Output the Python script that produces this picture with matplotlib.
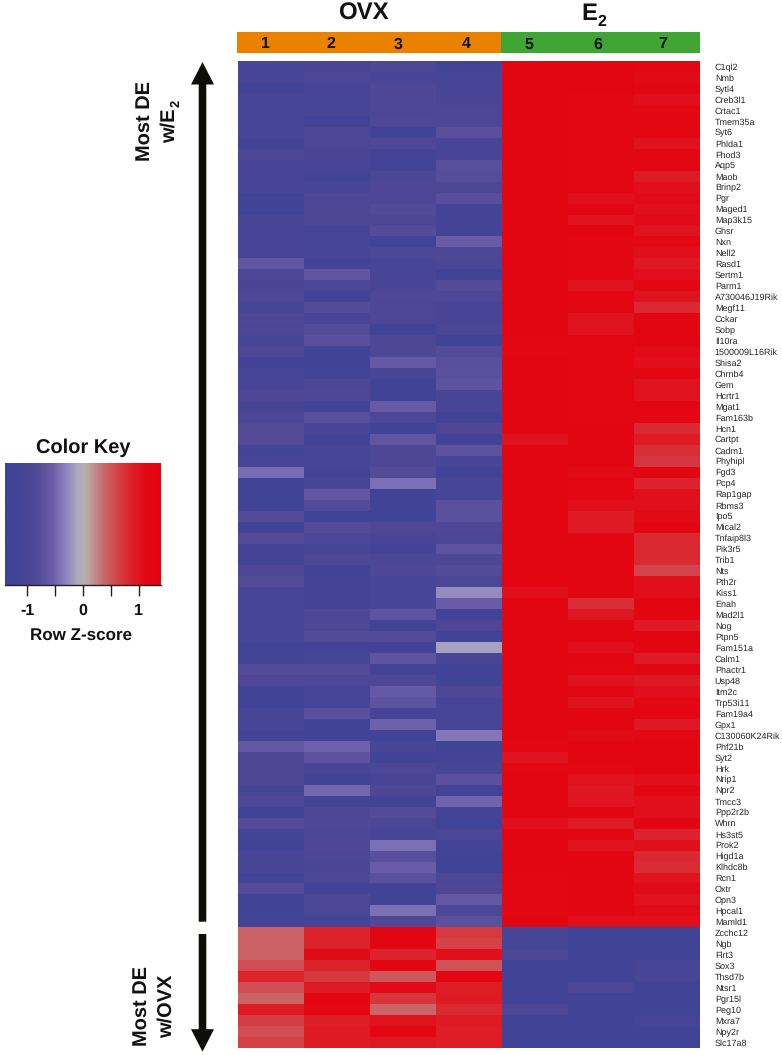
import numpy as np
import matplotlib
matplotlib.use("Agg")
import matplotlib.pyplot as plt
from matplotlib.colors import LinearSegmentedColormap
from matplotlib.patches import Polygon, Rectangle

plt.rcParams['font.family'] = ['Liberation Sans', 'DejaVu Sans']
plt.rcParams['text.hinting'] = 'no_hinting'
plt.rcParams['text.hinting_factor'] = 1

W, H = 782, 1055

genes = ["C1ql2","Nmb","Sytl4","Creb3l1","Crtac1","Tmem35a","Syt6","Phlda1","Fhod3","Aqp5",
"Maob","Brinp2","Pgr","Maged1","Map3k15","Ghsr","Nxn","Nell2","Rasd1","Sertm1",
"Parm1","A730046J19Rik","Megf11","Cckar","Sobp","Il10ra","1500009L16Rik","Shisa2","Chrnb4","Gem",
"Hcrtr1","Mgat1","Fam163b","Hcn1","Cartpt","Cadm1","Phyhipl","Fgd3","Pcp4","Rap1gap",
"Rbms3","Ipo5","Mical2","Tnfaip8l3","Pik3r5","Trib1","Nts","Pth2r","Kiss1","Enah",
"Mad2l1","Nog","Ptpn5","Fam151a","Calm1","Phactr1","Usp48","Itm2c","Trp53i11","Fam19a4",
"Gpx1","C130060K24Rik","Phf21b","Syt2","Hrk","Nrip1","Npr2","Tmcc3","Ppp2r2b","Whrn",
"Hs3st5","Prok2","Higd1a","Klhdc8b","Rcn1","Oxtr","Opn3","Hpcal1","Mamld1","Zcchc12",
"Ngb","Flrt3","Sox3","Thsd7b","Ntsr1","Pgr15l","Peg10","Mxra7","Npy2r","Slc17a8"]

samples = ["1", "2", "3", "4", "5", "6", "7"]

ovx_rows = [
[-1.05,-1.0,-0.9,-1.1],[-1.05,-0.95,-1.0,-1.05],[-1.15,-1.0,-0.9,-1.0],[-1.05,-1.05,-0.9,-1.0],
[-1.05,-1.05,-0.95,-0.95],[-1.05,-1.2,-0.9,-0.95],[-1.05,-0.95,-1.15,-0.75],[-1.1,-0.95,-0.85,-1.05],
[-0.95,-1.0,-1.1,-1.0],[-1.0,-1.0,-1.1,-0.75],[-1.0,-1.1,-0.95,-0.78],[-1.05,-1.0,-0.85,-0.9],
[-1.2,-0.9,-0.95,-0.75],[-1.15,-0.9,-0.82,-1.1],[-1.05,-0.9,-0.9,-1.1],[-1.0,-1.05,-0.8,-1.1],
[-1.0,-1.05,-1.15,-0.55],[-1.0,-1.05,-0.95,-0.85],[-0.65,-1.1,-1.05,-0.95],[-0.95,-0.65,-1.05,-1.2],
[-1.0,-0.95,-1.0,-0.8],[-0.85,-1.2,-0.9,-0.85],[-1.0,-0.8,-0.95,-1.0],[-0.9,-1.0,-0.95,-1.0],
[-0.95,-0.8,-1.15,-0.98],[-1.0,-0.75,-0.9,-1.2],[-0.9,-1.15,-0.9,-0.8],[-1.2,-1.15,-0.6,-0.75],
[-1.05,-1.1,-1.05,-0.72],[-1.05,-0.95,-1.2,-0.68],[-0.85,-0.9,-1.2,-1.0],[-1.05,-1.15,-0.58,-1.0],
[-0.95,-0.75,-0.95,-1.15],[-0.8,-1.05,-1.15,-0.85],[-0.8,-1.15,-0.65,-1.2],[-1.1,-1.05,-0.9,-0.7],
[-1.0,-1.05,-0.85,-1.05],[-0.45,-1.1,-0.8,-1.2],[-1.2,-1.05,-0.42,-1.05],[-1.15,-0.62,-1.2,-1.05],
[-1.15,-0.8,-1.2,-0.72],[-0.8,-1.15,-1.2,-0.72],[-1.2,-0.8,-0.85,-0.85],[-0.8,-0.95,-1.05,-0.95],
[-1.1,-1.0,-1.1,-0.68],[-1.1,-0.9,-0.95,-0.9],[-0.9,-1.2,-0.85,-0.8],[-0.8,-1.1,-1.05,-0.95],
[-1.05,-1.15,-1.05,-0.25],[-1.05,-1.1,-1.05,-0.55],[-1.05,-0.9,-0.68,-1.2],[-1.05,-0.9,-1.15,-0.85],
[-1.05,-0.8,-0.8,-1.2],[-1.15,-1.1,-1.15,-0.12],[-1.1,-1.05,-0.68,-1.0],[-0.8,-0.8,-1.1,-1.2],
[-0.85,-0.85,-0.85,-1.22],[-1.2,-1.05,-0.6,-0.85],[-1.2,-1.05,-0.68,-1.05],[-1.05,-0.72,-1.1,-1.05],
[-1.05,-1.15,-0.52,-1.05],[-1.1,-1.2,-1.15,-0.38],[-0.62,-0.52,-1.05,-1.25],[-0.85,-0.7,-1.15,-1.1],
[-0.9,-1.05,-0.95,-1.05],[-0.85,-1.2,-1.0,-0.72],[-1.05,-0.48,-0.9,-1.15],[-0.9,-1.1,-1.2,-0.5],
[-1.2,-0.9,-0.8,-1.1],[-0.8,-0.85,-0.95,-1.22],[-1.1,-0.95,-1.05,-0.95],[-1.2,-0.85,-0.42,-1.1],
[-1.0,-0.95,-0.75,-1.2],[-1.05,-0.98,-0.55,-1.2],[-1.2,-0.95,-0.72,-0.95],[-0.8,-1.15,-1.15,-0.85],
[-1.15,-0.95,-1.2,-0.62],[-1.22,-0.95,-0.42,-0.85],[-1.1,-1.12,-0.9,-0.72],
[0.42,0.85,1.3,0.68],[0.42,0.85,1.3,0.62],[0.42,1.1,0.85,1.05],[0.55,0.85,1.3,0.52],
[0.85,0.68,0.48,1.3],[0.55,0.9,1.1,0.88],[0.42,1.3,0.72,0.9],[0.9,1.15,0.4,0.8],
[0.65,0.88,1.0,0.9],[0.55,0.9,1.2,0.88],[0.62,0.9,0.95,0.88]]

e2_rows = [
[1.3,1.3,1.15],[1.3,1.3,1.1],[1.3,1.3,1.2],[1.3,1.25,1.05],[1.3,1.25,1.15],[1.3,1.25,1.15],
[1.3,1.25,1.2],[1.3,1.25,1.0],[1.3,1.25,1.2],[1.3,1.25,1.25],[1.3,1.25,0.9],[1.3,1.25,1.05],
[1.3,1.05,1.1],[1.3,1.3,1.05],[1.3,1.0,1.1],[1.3,1.3,1.0],[1.3,1.2,1.2],[1.3,1.2,1.05],
[1.3,1.25,0.95],[1.3,1.25,1.05],[1.3,1.0,1.25],[1.3,1.2,1.0],[1.3,1.25,0.8],[1.3,1.0,1.3],
[1.3,1.0,1.3],[1.2,1.25,1.3],[1.25,1.25,1.1],[1.3,1.25,1.05],[1.3,1.25,1.25],[1.3,1.25,1.0],
[1.3,1.25,1.0],[1.3,1.25,1.25],[1.3,1.25,1.25],[1.3,1.3,0.8],[1.0,1.3,0.9],[1.3,1.3,0.75],
[1.3,1.3,0.7],[1.3,1.1,1.3],[1.3,1.25,0.85],[1.3,1.25,1.05],[1.3,1.05,1.05],[1.3,0.9,1.1],
[1.3,0.9,1.3],[1.3,1.3,0.8],[1.3,1.3,0.8],[1.3,1.3,0.8],[1.3,1.3,0.6],[1.3,1.3,1.05],
[1.05,1.3,1.05],[1.3,0.75,1.3],[1.3,0.95,1.3],[1.3,1.3,0.9],[1.3,1.3,1.3],[1.3,1.05,1.3],
[1.3,1.3,0.9],[1.3,1.15,1.3],[1.3,1.0,0.95],[1.3,1.25,1.05],[1.3,1.0,1.2],[1.3,1.3,1.2],
[1.3,1.3,0.95],[1.3,1.1,1.15],[1.15,1.3,1.3],[1.0,1.3,1.3],[1.25,1.15,1.3],[1.3,1.0,1.05],
[1.3,0.95,1.3],[1.3,0.98,1.05],[1.3,1.3,1.05],[1.05,0.9,1.3],[1.3,1.2,0.85],[1.3,1.0,1.05],
[1.3,1.3,0.8],[1.3,1.3,0.78],[1.15,1.3,1.0],[1.2,1.3,1.1],[1.15,1.3,1.0],[1.25,1.3,1.1],
[1.3,1.05,1.05],
[-1.05,-1.15,-1.15],[-1.05,-1.2,-1.15],[-0.9,-1.2,-1.15],[-1.2,-1.18,-1.05],[-1.15,-1.2,-1.0],
[-1.2,-0.95,-1.2],[-1.2,-1.2,-1.2],[-0.95,-1.2,-1.2],[-1.15,-1.15,-1.08],[-1.2,-1.2,-1.2],
[-1.2,-1.2,-1.2]]

key_ticks = [-1, -0.5, 0, 0.5, 1]
key_labels = ["-1", "", "0", "", "1"]

zlim = 1.39
stops = [(-1.39,(62,68,152)),(-1.15,(66,68,150)),(-0.85,(80,72,150)),(-0.55,(106,92,168)),
         (-0.3,(142,132,192)),(-0.1,(170,168,190)),(0.0,(178,178,176)),(0.12,(188,160,158)),
         (0.35,(200,110,112)),(0.62,(212,66,72)),(0.9,(222,28,38)),(1.15,(226,8,20)),(1.39,(226,6,18))]
cmap = LinearSegmentedColormap.from_list(
    "key", [((z + zlim) / (2 * zlim), tuple(c / 255 for c in rgb)) for z, rgb in stops], N=512)


def px_axes(x0, y0, x1, y1, **kw):
    return fig.add_axes([x0 / W, 1 - y1 / H, (x1 - x0) / W, (y1 - y0) / H], **kw)


fig = plt.figure(figsize=(W / 100, H / 100), dpi=100, facecolor="white")

# Main heatmap
data = np.hstack([np.array(ovx_rows), np.array(e2_rows)])
ax = px_axes(237.5, 61, 699.5, 1048)
ax.imshow(data, cmap=cmap, vmin=-zlim, vmax=zlim, aspect="auto", interpolation="nearest")
ax.set_xticks([])
ax.yaxis.tick_right()
ax.set_yticks(np.arange(len(genes)))
ax.set_yticklabels(genes, fontsize=6.3, color="#262626")
ax.tick_params(axis="y", length=0, pad=11)
for s in ax.spines.values():
    s.set_visible(False)

# Sample strip
strip = px_axes(236.5, 32, 699.5, 53)
strip.set_xlim(-0.5, len(samples) - 0.5)
strip.set_ylim(0, 1)
strip.axis("off")
n_ovx = len(ovx_rows[0])
strip.add_patch(Rectangle((-0.5, 0), n_ovx, 1, color="#EA8200", lw=0))
strip.add_patch(Rectangle((n_ovx - 0.5, 0), len(samples) - n_ovx, 1, color="#3FA535", lw=0))

# Overlay in pixel coordinates for titles and arrows
ov = fig.add_axes([0, 0, 1, 1], facecolor="none")
ov.set_xlim(0, W)
ov.set_ylim(H, 0)
ov.axis("off")

bold = dict(fontweight="bold", color="#111111")
for s, x in zip(samples, [265.5, 331, 398.5, 466, 529, 598, 663]):
    ov.text(x, 48.5, s, ha="center", va="baseline", fontsize=11.5, **bold)

ov.text(363, 20, "OVX", ha="center", va="baseline", fontsize=17.3, **bold)
ov.text(589, 20, "E", ha="center", va="baseline", fontsize=17.3, **bold)
ov.text(602, 26, "2", ha="center", va="baseline", fontsize=11.5, **bold)


def v_arrow(x, y_tail, y_tip, half_w=3.8, head_w=11.5, head_l=22.5):
    d = 1 if y_tip > y_tail else -1
    ov.add_patch(Polygon([(x - half_w, y_tail), (x + half_w, y_tail), (x + half_w, y_tip - d * head_l),
                          (x + head_w, y_tip - d * head_l), (x, y_tip), (x - head_w, y_tip - d * head_l),
                          (x - half_w, y_tip - d * head_l)], closed=True, color="#0d0d0a", lw=0))


v_arrow(202.5, 921.7, 62)
v_arrow(202.5, 934, 1051.7)


def side_text(x, y, s, size=14.5):
    ov.text(x, y, s, rotation=90, rotation_mode="anchor", ha="center", va="baseline",
            fontsize=size, **bold)


side_text(150, 121, "Most DE")
side_text(175, 125.5, "w/E")
side_text(180, 103, "2", size=9.5)
side_text(147, 1006.5, "Most DE")
side_text(172, 1006.5, "w/OVX")

# Colour key
key = px_axes(5.3, 462.7, 160.7, 585)
grad = np.linspace(-zlim, zlim, 400)[None, :]
key.imshow(grad, cmap=cmap, vmin=-zlim, vmax=zlim, aspect="auto", extent=[-zlim, zlim, 0, 1])
key.set_yticks([])
key.set_xticks(key_ticks)
key.set_xticklabels(key_labels, fontsize=11.5, fontweight="bold", color="#111111")
key.tick_params(axis="x", length=8, width=1, color="#222222", pad=5)
for s in ("left", "right", "top"):
    key.spines[s].set_visible(False)
key.spines["bottom"].set_color("#222222")
key.spines["bottom"].set_linewidth(1.0)
ov.text(83, 453, "Color Key", ha="center", va="baseline", fontsize=14.6, **bold)
ov.text(81, 640, "Row Z-score", ha="center", va="baseline", fontsize=12.2, **bold)

fig.savefig("out.png", dpi=100, facecolor="white")
